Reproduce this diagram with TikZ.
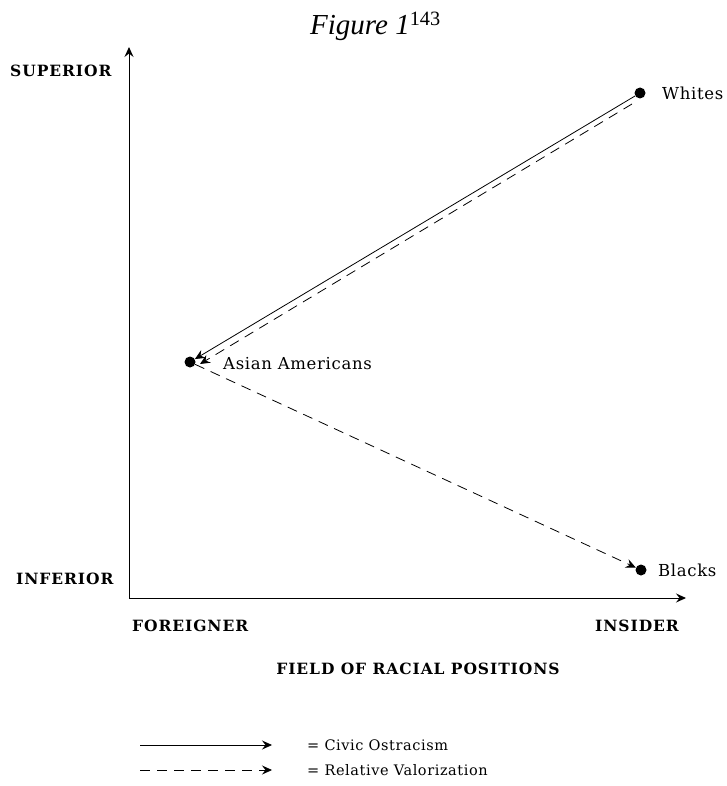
\documentclass[tikz,border=0pt]{standalone}
\usepackage{fontspec}
\setmainfont{Liberation Serif}
\newfontfamily\lblfont[LetterSpace=4]{DejaVu Serif}
\newfontfamily\axfont[LetterSpace=6]{DejaVu Serif}
\usetikzlibrary{arrows.meta}
\begin{document}
\begin{tikzpicture}[x=1pt,y=-1pt,
  tip/.style={-{Stealth[length=10pt,width=9pt,inset=3.5pt]}},
  axis/.style={line width=1pt,tip},
  rel/.style={line width=0.8pt,dash pattern=on 10pt off 7pt,tip},
  civ/.style={line width=0.8pt,tip},
  axlabel/.style={font=\axfont\bfseries\fontsize{15.5}{18}\selectfont,inner sep=0pt},
  grp/.style={font=\lblfont\fontsize{16.5}{19}\selectfont,anchor=west,inner sep=0pt},
  pt/.style={circle,fill=black,inner sep=0pt,minimum size=11pt},
  leg/.style={font=\lblfont\fontsize{14.5}{17}\selectfont,anchor=west,inner sep=0pt}]
\useasboundingbox (0,0) rectangle (726,786);
% title
\node[anchor=base west,inner sep=0pt] (title) at (310,35) {\fontsize{29}{32}\selectfont\itshape Figure 1\textsuperscript{\upshape 143}};
% axes
\coordinate (O) at (129,598);
\coordinate (Ytop) at (129,47);
\coordinate (Xend) at (686,598);
\draw[axis] (O) -- (Ytop);
\draw[axis] (O) -- (Xend);
% axis labels
\node[axlabel,anchor=west] (sup) at (10,71) {SUPERIOR};
\node[axlabel,anchor=west] (inf) at (16,579) {INFERIOR};
\node[axlabel,anchor=west] (for) at (132,626) {FOREIGNER};
\node[axlabel,anchor=east] (ins) at (679,626) {INSIDER};
\node[axlabel] (field) at (418,669) {FIELD OF RACIAL POSITIONS};
% points
\node[pt] (W) at (640,93) {};
\node[pt] (A) at (190,362) {};
\node[pt] (B) at (641,570) {};
\node[grp] (Wl) at (662,93) {Whites};
\node[grp] (Al) at (223,364) {Asian Americans};
\node[grp] (Bl) at (658,570) {Blacks};
% connectors
\coordinate (Wd) at (632,104);
\coordinate (Ad) at (200,364);
\draw[civ] (W) -- (A);
\draw[rel] (Wd) -- (Ad);
\draw[rel] (A) -- (B);
% legend
\coordinate (L1a) at (140,745);
\coordinate (L1b) at (272,745);
\coordinate (L2a) at (140,770);
\coordinate (L2b) at (272,770);
\draw[civ] (L1a) -- (L1b);
\draw[rel] (L2a) -- (L2b);
\node[leg] (t1) at (307,745) {= Civic Ostracism};
\node[leg] (t2) at (307,770) {= Relative Valorization};
\end{tikzpicture}
\end{document}
